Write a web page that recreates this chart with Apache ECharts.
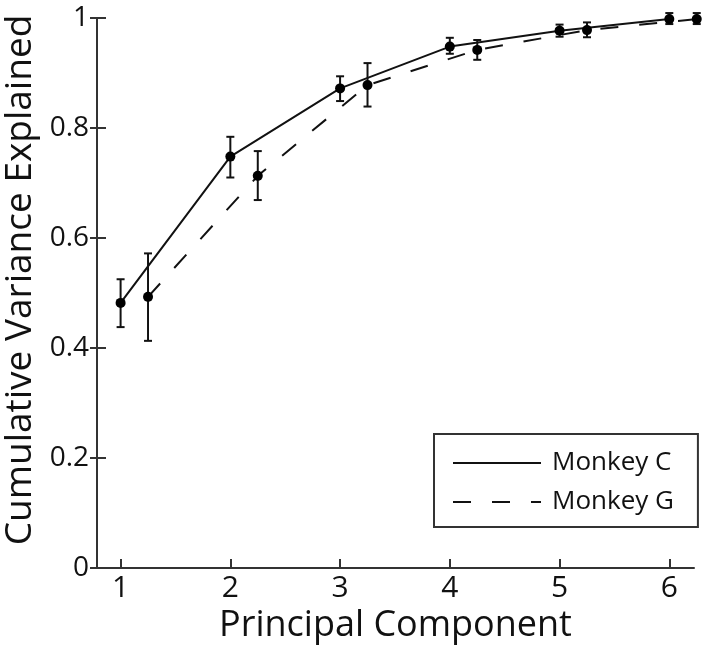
<!DOCTYPE html>
<html>
<head>
<meta charset="utf-8">
<script src="https://cdn.jsdelivr.net/npm/echarts@6/dist/echarts.min.js"></script>
<style>html,body{margin:0;padding:0;background:#fff}#chart{width:708px;height:647px}</style>
</head>
<body>
<div id="chart"></div>
<script>
// ---- data ----
const xTicks = [1, 2, 3, 4, 5, 6];
const yTicks = [0, 0.2, 0.4, 0.6, 0.8, 1];
const monkeyCX = [1, 2, 3, 4, 5, 6];
const monkeyC = [0.482, 0.748, 0.872, 0.948, 0.977, 0.998];
const monkeyCLow = [0.438, 0.710, 0.849, 0.935, 0.966, 0.989];
const monkeyCHigh = [0.525, 0.784, 0.894, 0.964, 0.988, 1.009];
const monkeyGX = [1.25, 2.25, 3.25, 4.25, 5.25, 6.25];
const monkeyG = [0.493, 0.713, 0.878, 0.942, 0.978, 0.998];
const monkeyGLow = [0.413, 0.669, 0.839, 0.924, 0.965, 0.989];
const monkeyGHigh = [0.572, 0.758, 0.918, 0.960, 0.992, 1.009];
const seriesNames = ['Monkey C', 'Monkey G'];
const xTitle = 'Principal Component';
const yTitle = 'Cumulative Variance Explained';

const FONT = '"Open Sans", "DejaVu Sans", sans-serif';
const INK = '#111';
const AXIS = '#333';

const pairs = (xs, ys) => xs.map((x, i) => [x, ys[i]]);
const errs = (xs, lo, hi) => xs.map((x, i) => [x, lo[i], hi[i]]);

function errorBar(params, api) {
  const x = api.value(0);
  const lo = api.coord([x, api.value(1)]);
  const hi = api.coord([x, api.value(2)]);
  const cap = 4;
  const style = { stroke: INK, lineWidth: 2, fill: null };
  return {
    type: 'group',
    children: [
      { type: 'line', shape: { x1: lo[0], y1: lo[1], x2: hi[0], y2: hi[1] }, style },
      { type: 'line', shape: { x1: hi[0] - cap, y1: hi[1], x2: hi[0] + cap, y2: hi[1] }, style },
      { type: 'line', shape: { x1: lo[0] - cap, y1: lo[1], x2: lo[0] + cap, y2: lo[1] }, style }
    ]
  };
}

const chart = echarts.init(document.getElementById('chart'), null, { renderer: 'canvas' });
chart.setOption({
  animation: false,
  backgroundColor: '#fff',
  grid: { left: 97, right: 14, top: 18, bottom: 79, containLabel: false, outerBoundsMode: 'none' },
  legend: {
    data: seriesNames,
    orient: 'vertical',
    left: 434,
    top: 434,
    padding: [14, 24, 10, 18],
    itemGap: 9,
    itemWidth: 88,
    itemHeight: 14,
    borderColor: AXIS,
    borderWidth: 2,
    backgroundColor: '#fff',
    selectedMode: false,
    itemStyle: { color: 'transparent', borderColor: 'transparent', borderWidth: 0, opacity: 0 },
    textStyle: { fontFamily: FONT, fontSize: 26, color: INK, lineHeight: 30, padding: [0, 0, 0, 6] }
  },
  xAxis: {
    type: 'value',
    min: 0.785,
    max: 6.225,
    name: xTitle,
    nameLocation: 'middle',
    nameGap: 32,
    nameTextStyle: { fontFamily: FONT, fontSize: 36, color: INK },
    splitLine: { show: false },
    axisLine: { lineStyle: { color: AXIS, width: 2 } },
    axisTick: { inside: true, length: 9, lineStyle: { color: AXIS, width: 2 }, customValues: xTicks },
    axisLabel: { customValues: xTicks, fontFamily: FONT, fontSize: 30, color: INK, margin: 5 }
  },
  yAxis: [
    {
      type: 'value',
      min: 0,
      max: 1,
      interval: 0.2,
      name: yTitle,
      nameLocation: 'middle',
      nameGap: 55,
      nameTextStyle: { fontFamily: FONT, fontSize: 37, color: INK, padding: [0, 0, 0, 26] },
      splitLine: { show: false },
      axisLine: { lineStyle: { color: AXIS, width: 2 } },
      axisTick: { length: 7, lineStyle: { color: AXIS, width: 2 }, customValues: yTicks },
      axisLabel: { customValues: yTicks, fontFamily: FONT, fontSize: 28, color: INK, margin: 8 }
    },
    {
      type: 'value',
      min: 0,
      max: 1,
      interval: 0.2,
      position: 'left',
      splitLine: { show: false },
      axisLine: { show: true, lineStyle: { color: AXIS, width: 2 } },
      axisTick: { inside: true, length: 9, lineStyle: { color: AXIS, width: 2 }, customValues: yTicks },
      axisLabel: { show: false }
    }
  ],
  series: [
    {
      name: seriesNames[0], type: 'line', data: pairs(monkeyCX, monkeyC),
      symbol: 'none', clip: false, z: 2,
      lineStyle: { color: INK, width: 2, type: 'solid' }, itemStyle: { color: INK }
    },
    {
      name: seriesNames[1], type: 'line', data: pairs(monkeyGX, monkeyG),
      symbol: 'none', clip: false, z: 2,
      lineStyle: { color: INK, width: 2, type: [18, 21] }, itemStyle: { color: INK }
    },
    { type: 'custom', renderItem: errorBar, data: errs(monkeyCX, monkeyCLow, monkeyCHigh), clip: false, z: 3 },
    { type: 'custom', renderItem: errorBar, data: errs(monkeyGX, monkeyGLow, monkeyGHigh), clip: false, z: 3 },
    { type: 'scatter', data: pairs(monkeyCX, monkeyC), symbol: 'circle', symbolSize: 10, clip: false, z: 4, itemStyle: { color: '#000', opacity: 1 } },
    { type: 'scatter', data: pairs(monkeyGX, monkeyG), symbol: 'circle', symbolSize: 10, clip: false, z: 4, itemStyle: { color: '#000', opacity: 1 } }
  ]
});
</script>
</body>
</html>
